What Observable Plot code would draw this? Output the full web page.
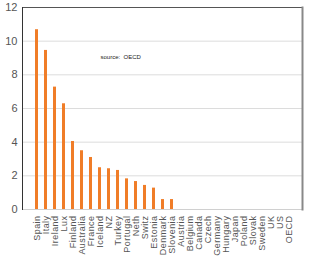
<!DOCTYPE html>
<html><head><meta charset="utf-8">
<script src="https://cdn.jsdelivr.net/npm/d3@7"></script>
<script src="https://cdn.jsdelivr.net/npm/@observablehq/plot@0.6"></script>
<style>body{margin:0;background:#fff;font-family:Arial,"Liberation Sans",sans-serif}
g[aria-label="x-axis tick label"] text{letter-spacing:0.45px}</style>
</head><body><div id="chart"></div>
<script>
const countries = ["Spain","Italy","Ireland","Lux","Finland","Australia","France","Iceland","NZ","Turkey","Portugal","Neth","Switz","Estonia","Denmark","Slovenia","Austria","Belgium","Canada","Czech","Germany","Hungary","Japan","Poland","Slovak","Sweden","UK","US","OECD"];
const values = [10.68,9.45,7.27,6.28,4.04,3.49,3.09,2.48,2.42,2.32,1.82,1.66,1.43,1.27,0.59,0.59,0,0,0,0,0,0,0,0,0,0,0,0,0];
const yTicks = [0,2,4,6,8,10,12];
const gridTicks = [2,4,6,8,10];
const note = "source:  OECD";
const data = countries.map((c,i)=>({country:c, value:values[i]}));
const plot = Plot.plot({
  width:313, height:264,
  marginLeft:22, marginRight:11, marginTop:7, marginBottom:55,
  style:{fontFamily:"Arial, 'Liberation Sans', sans-serif", background:"#fff"},
  x:{domain:countries, padding:0.68, paddingOuter:0.05, label:null},
  y:{domain:[0,12], ticks:yTicks, label:null},
  marks:[
    Plot.ruleY(gridTicks,{stroke:"#dcdcdc", strokeWidth:1}),
    Plot.ruleY([0],{stroke:"#d0d0d0", strokeWidth:1}),
    Plot.barY(data,{x:"country", y:"value", fill:"#f07d28"}),
    Plot.frame({anchor:"top", stroke:"#555"}),
    Plot.frame({anchor:"left", stroke:"#333"}),
    Plot.frame({anchor:"right", stroke:"#888", strokeWidth:2}),
    Plot.axisY({ticks:yTicks, tickSize:0, tickPadding:5, fontSize:11, color:"#555", stroke:"none"}),
    Plot.axisX({tickSize:0, tickRotate:-90, tickPadding:6, fontSize:9, color:"#555"}),
    Plot.text([note],{frameAnchor:"top-left", dx:78, dy:47, text:d=>d, fontSize:6, fill:"#222", textAnchor:"start"})
  ]
});
document.getElementById("chart").appendChild(plot);
</script></body></html>
